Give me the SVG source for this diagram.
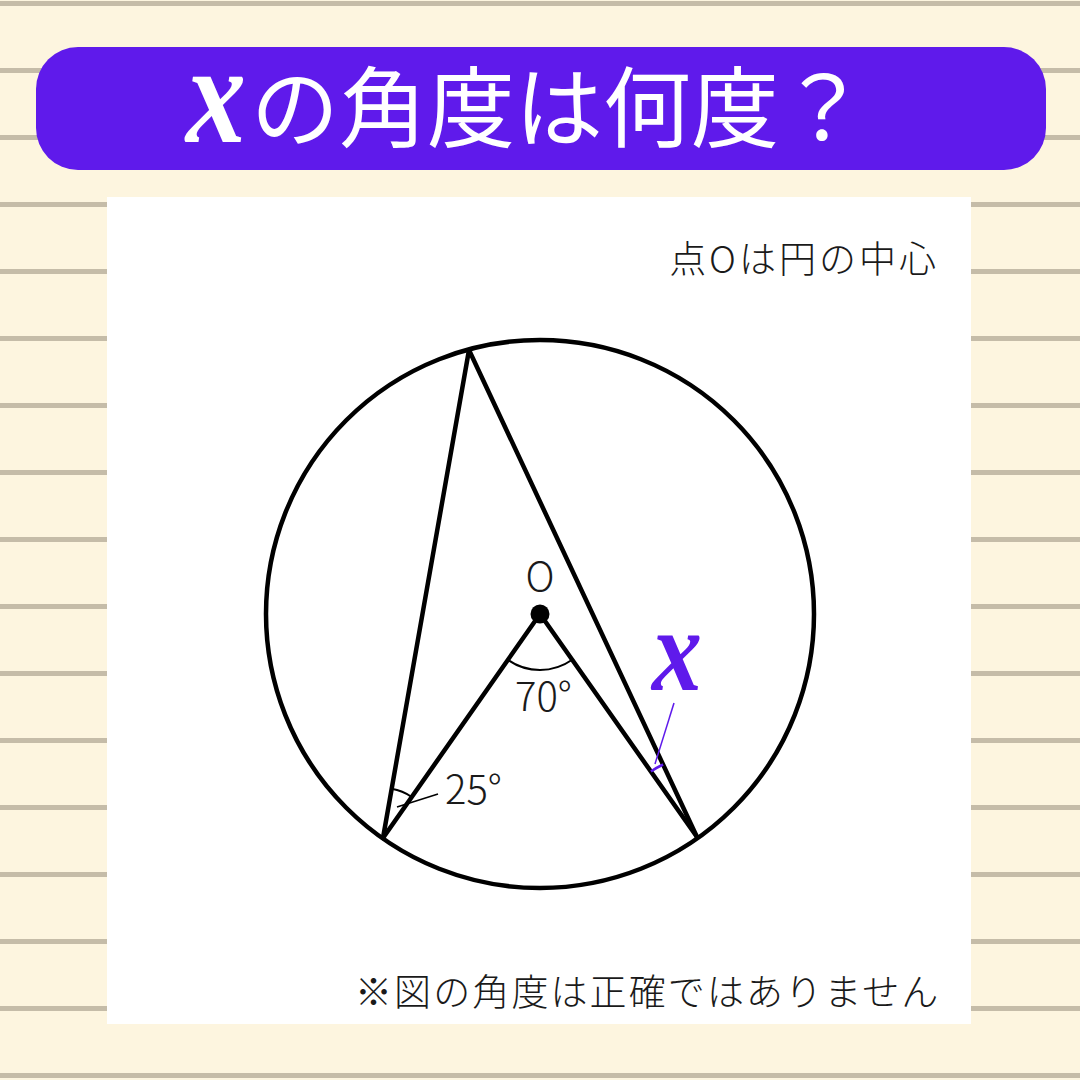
<svg xmlns="http://www.w3.org/2000/svg" width="1080" height="1080" viewBox="0 0 1080 1080">
  <defs>
    <style>
      .rule { stroke: #c5bca8; stroke-width: 5; }
      .geo { fill: none; stroke: #000; stroke-width: 4.5; stroke-linecap: round; stroke-linejoin: round; }
      .arc { fill: none; stroke: #000; stroke-width: 2; }
      .thin { fill: none; stroke: #000; stroke-width: 1.5; }
      .parc { fill: none; stroke: #5f1aeb; stroke-width: 2.5; }
      .pthin { fill: none; stroke: #5f1aeb; stroke-width: 1.5; }
      .jp { font-family: "Noto Sans CJK JP", "Noto Sans", sans-serif; font-weight: 300; fill: #1a1a1a; }
      .lbl { font-family: "Noto Sans CJK JP", "Noto Sans", sans-serif; font-weight: 300; fill: #1a1a1a; font-size: 40px; }
      .xvar { font-family: "Liberation Serif", serif; font-style: italic; font-weight: bold; }
    </style>
  </defs>
  <rect id="background" x="0" y="0" width="1080" height="1080" fill="#fdf5df"/>
  <g id="ruled-lines">
    <line class="rule" x1="0" y1="3.5" x2="1080" y2="3.5"/>
    <line class="rule" x1="0" y1="70.5" x2="1080" y2="70.5"/>
    <line class="rule" x1="0" y1="137.5" x2="1080" y2="137.5"/>
    <line class="rule" x1="0" y1="204.5" x2="1080" y2="204.5"/>
    <line class="rule" x1="0" y1="271.5" x2="1080" y2="271.5"/>
    <line class="rule" x1="0" y1="338.5" x2="1080" y2="338.5"/>
    <line class="rule" x1="0" y1="405.5" x2="1080" y2="405.5"/>
    <line class="rule" x1="0" y1="472.5" x2="1080" y2="472.5"/>
    <line class="rule" x1="0" y1="539.5" x2="1080" y2="539.5"/>
    <line class="rule" x1="0" y1="606.5" x2="1080" y2="606.5"/>
    <line class="rule" x1="0" y1="673.5" x2="1080" y2="673.5"/>
    <line class="rule" x1="0" y1="740.5" x2="1080" y2="740.5"/>
    <line class="rule" x1="0" y1="807.5" x2="1080" y2="807.5"/>
    <line class="rule" x1="0" y1="874.5" x2="1080" y2="874.5"/>
    <line class="rule" x1="0" y1="941.5" x2="1080" y2="941.5"/>
    <line class="rule" x1="0" y1="1008.5" x2="1080" y2="1008.5"/>
    <line class="rule" x1="0" y1="1075.5" x2="1080" y2="1075.5"/>
  </g>
  <g id="title">
    <rect x="36" y="47" width="1010" height="123" rx="42" ry="42" fill="#5f1aeb"/>
    <text class="xvar" x="0" y="0" font-size="120" fill="#fff" transform="translate(186,142) scale(1,1.18)">x</text>
    <text x="251" y="140" font-family="Noto Sans CJK JP, sans-serif" font-size="88" fill="#fff">の角度は何度？</text>
  </g>
  <rect id="panel" x="107" y="197" width="864" height="827" fill="#fff"/>
  <g id="note-top">
    <text class="jp" x="939" y="273" font-size="37" text-anchor="end" letter-spacing="3">点Oは円の中心</text>
  </g>
  <g id="figure">
    <circle id="circle" class="geo" cx="540" cy="614" r="274"/>
    <g id="connectors">
      <polyline class="geo" points="383,838 469,350 697,837"/>
      <polyline class="geo" points="383,838 540,614 697,837"/>
    </g>
    <g id="center-O">
      <circle cx="540" cy="614" r="9.5" fill="#000"/>
      <text class="lbl" x="540" y="591" text-anchor="middle">O</text>
    </g>
    <g id="angle-70">
      <path class="arc" d="M507.9,659.9 A56,56 0 0 0 572.2,659.8"/>
      <text class="lbl" x="515" y="711">70°</text>
    </g>
    <g id="angle-25">
      <path class="arc" d="M391.7,788.8 A50,50 0 0 1 411.7,797"/>
      <line class="thin" x1="397" y1="807" x2="438" y2="794"/>
      <text class="lbl" x="445" y="804">25°</text>
    </g>
    <g id="angle-x">
      <path class="parc" d="M663.1,764.5 A80,80 0 0 0 650.9,771.6"/>
      <line class="pthin" x1="655" y1="764" x2="674" y2="703"/>
      <text class="xvar" x="0" y="0" font-size="100" fill="#5f1aeb" transform="translate(652,690) scale(1,1.18)">x</text>
    </g>
  </g>
  <g id="note-bottom">
    <text class="jp" x="355" y="1006" font-size="37" letter-spacing="2.1">※図の角度は正確ではありません</text>
  </g>
</svg>
